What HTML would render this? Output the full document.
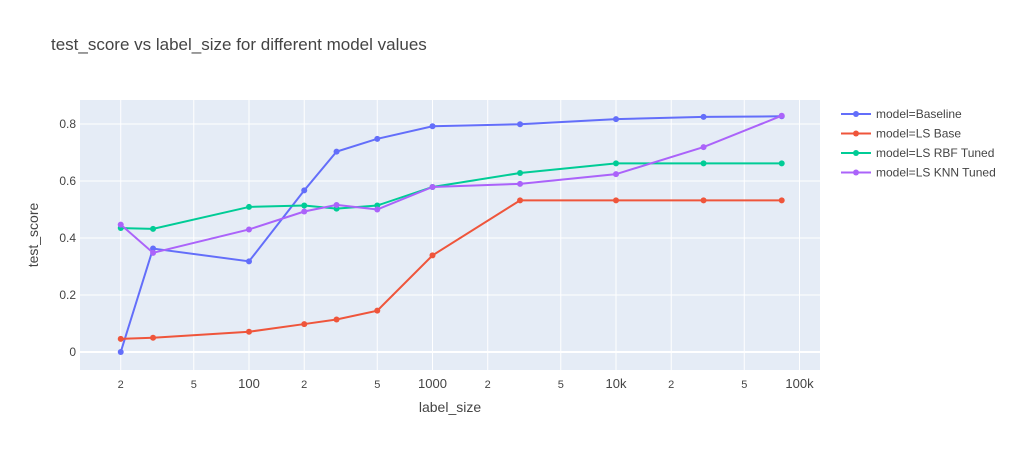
<!DOCTYPE html>
<html><head><meta charset="utf-8"><style>
body{margin:0;background:#fff;font-family:"Liberation Sans",sans-serif}
</style></head><body>
<svg id="chart" width="1025" height="450" xmlns="http://www.w3.org/2000/svg" style="font-family:'Liberation Sans',sans-serif">
<rect width="1025" height="450" fill="#fff"/>
<text x="51" y="50" font-size="17" fill="#444">test_score vs label_size for different model values</text>
<rect x="80" y="100" width="740" height="270" fill="#E5ECF6"/>
<g id="grid"></g><g id="series"></g><g id="ticks" font-size="12" fill="#444"></g>
<text x="450" y="412" font-size="14" fill="#444" text-anchor="middle">label_size</text>
<text transform="translate(38,235) rotate(-90)" font-size="14" fill="#444" text-anchor="middle">test_score</text>
<g id="legend" font-size="12" fill="#444"></g>
</svg>
<script>
const labelSizes=[20,30,100,200,300,500,1000,3000,10000,30000,80000];
const seriesNames=["model=Baseline","model=LS Base","model=LS RBF Tuned","model=LS KNN Tuned"];
const baseline=[0,0.363,0.318,0.567,0.703,0.748,0.792,0.799,0.817,0.825,0.827];
const lsBase=[0.046,0.050,0.071,0.098,0.114,0.145,0.339,0.532,0.532,0.532,0.532];
const lsRbf=[0.435,0.432,0.509,0.514,0.503,0.514,0.579,0.628,0.662,0.662,0.662];
const lsKnn=[0.447,0.348,0.430,0.493,0.516,0.500,0.579,0.590,0.624,0.719,0.829];
const xTickValues=[20,50,100,200,500,1000,2000,5000,10000,20000,50000,100000];
const xTickLabels=["2","5","100","2","5","1000","2","5","10k","2","5","100k"];
const yTickValues=[0,0.2,0.4,0.6,0.8];
const yTickLabels=["0","0.2","0.4","0.6","0.8"];
const colors=["#636efa","#EF553B","#00cc96","#ab63fa"];
const allSeries=[baseline,lsBase,lsRbf,lsKnn];
const NS="http://www.w3.org/2000/svg";
const X=v=>249+(Math.log10(v)-2)*183.5;
const Y=v=>352-v*285;
function mk(tag,attrs,parent){const e=document.createElementNS(NS,tag);for(const k in attrs)e.setAttribute(k,attrs[k]);parent.appendChild(e);return e;}
const grid=document.getElementById('grid'),ticks=document.getElementById('ticks');
xTickValues.forEach((v,i)=>{
 const l=mk('line',{x1:X(v),x2:X(v),y1:100,y2:370,stroke:'#fff','stroke-width':1},grid);
 
 
 const t=mk('text',{x:X(v),y:388,'text-anchor':'middle','font-size':xTickLabels[i].length>1?13:11},ticks);
 t.textContent=xTickLabels[i];
 
 
});
yTickValues.forEach((v,i)=>{
 const l=mk('line',{x1:80,x2:820,y1:Y(v),y2:Y(v),stroke:'#fff','stroke-width':v===0?2:1},grid);
 
 
 const t=mk('text',{x:76,y:Y(v)+4,'text-anchor':'end'},ticks);
 t.textContent=yTickLabels[i];
 
 
});
const sg=document.getElementById('series'),lg=document.getElementById('legend');
allSeries.forEach((s,k)=>{
 const pts=s.map((v,i)=>X(labelSizes[i])+','+Y(v)).join(' ');
 const p=mk('polyline',{points:pts,fill:'none',stroke:colors[k],'stroke-width':2},sg);
 
 
 s.forEach((v,i)=>{
  const c=mk('circle',{cx:X(labelSizes[i]),cy:Y(v),r:3,fill:colors[k]},sg);
  
  
 });
 const y=114+k*19.5;
 const g=mk('g',{},lg);
 
 
 mk('line',{x1:841,x2:871,y1:y,y2:y,stroke:colors[k],'stroke-width':2},g);
 mk('circle',{cx:856,cy:y,r:3,fill:colors[k]},g);
 const t=mk('text',{x:876,y:y+4},g);t.textContent=seriesNames[k];
});
</script>
</body></html>
